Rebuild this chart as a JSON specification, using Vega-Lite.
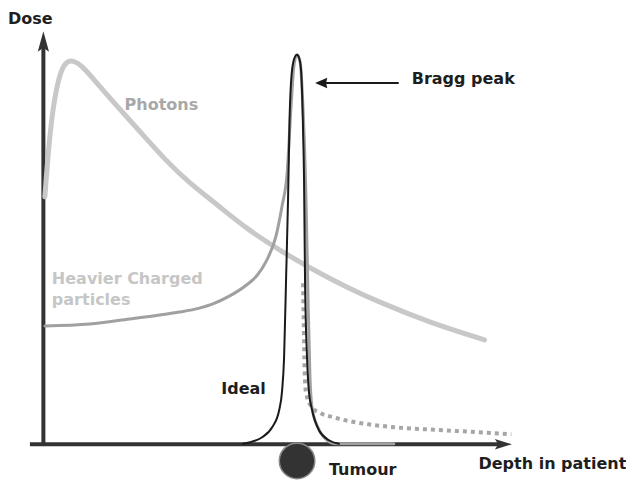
{
  "$schema": "https://vega.github.io/schema/vega-lite/v6.json",
  "width": 626,
  "height": 482,
  "padding": 0,
  "autosize": {"type": "fit", "contains": "padding"},
  "background": "white",
  "config": {"view": {"stroke": null}},
  "datasets": {
    "photons": [
      {"depth": 0.32, "dose": 63.85}, {"depth": 0.96, "dose": 74.36}, {"depth": 2.02, "dose": 87.18},
      {"depth": 3.51, "dose": 95.9}, {"depth": 4.79, "dose": 98.6}, {"depth": 6.06, "dose": 99.2},
      {"depth": 8.4, "dose": 97.6}, {"depth": 12.02, "dose": 92.31}, {"depth": 16.91, "dose": 85.64},
      {"depth": 20.53, "dose": 80.8}, {"depth": 26.28, "dose": 73.0}, {"depth": 31.17, "dose": 67.4},
      {"depth": 36.91, "dose": 62.0}, {"depth": 43.3, "dose": 55.64}, {"depth": 50.53, "dose": 50.0},
      {"depth": 57.55, "dose": 45.0}, {"depth": 64.79, "dose": 40.5}, {"depth": 71.81, "dose": 36.6},
      {"depth": 82.23, "dose": 31.5}, {"depth": 94.15, "dose": 26.92}
    ],
    "bragg": [
      {"depth": 0.32, "dose": 30.51}, {"depth": 9.89, "dose": 31.03}, {"depth": 18.4, "dose": 32.31},
      {"depth": 24.79, "dose": 33.33}, {"depth": 29.04, "dose": 34.1}, {"depth": 33.3, "dose": 35.13},
      {"depth": 36.06, "dose": 36.15}, {"depth": 39.68, "dose": 38.21}, {"depth": 43.3, "dose": 41.03},
      {"depth": 45.64, "dose": 43.59}, {"depth": 47.55, "dose": 47.18}, {"depth": 49.68, "dose": 53.85},
      {"depth": 50.96, "dose": 61.54}, {"depth": 52.02, "dose": 69.74}, {"depth": 52.87, "dose": 87.18},
      {"depth": 53.51, "dose": 97.95}, {"depth": 54.15, "dose": 100.51}, {"depth": 54.79, "dose": 98.72},
      {"depth": 55.43, "dose": 86.41}, {"depth": 56.06, "dose": 63.33}, {"depth": 56.49, "dose": 37.69},
      {"depth": 56.91, "dose": 17.18}, {"depth": 57.34, "dose": 9.49}, {"depth": 58.4, "dose": 4.87},
      {"depth": 59.89, "dose": 1.79}, {"depth": 62.45, "dose": 0.1}, {"depth": 74.79, "dose": 0.1}
    ],
    "tail": [
      {"depth": 55.43, "dose": 41.54}, {"depth": 55.6, "dose": 30.0}, {"depth": 55.75, "dose": 19.74},
      {"depth": 56.06, "dose": 13.33}, {"depth": 57.34, "dose": 9.49}, {"depth": 58.83, "dose": 8.21},
      {"depth": 62.02, "dose": 6.92}, {"depth": 64.57, "dose": 6.15}, {"depth": 69.47, "dose": 5.13},
      {"depth": 75.21, "dose": 4.36}, {"depth": 85.85, "dose": 3.59}, {"depth": 99.89, "dose": 2.56}
    ],
    "ideal": [
      {"depth": 42.6, "dose": 0.1}, {"depth": 46.7, "dose": 1.79}, {"depth": 48.83, "dose": 4.36},
      {"depth": 50.32, "dose": 8.72}, {"depth": 50.96, "dose": 13.85}, {"depth": 51.38, "dose": 22.31},
      {"depth": 51.81, "dose": 42.82}, {"depth": 52.23, "dose": 63.33}, {"depth": 52.55, "dose": 83.85},
      {"depth": 53.09, "dose": 96.67}, {"depth": 53.72, "dose": 100.0}, {"depth": 54.15, "dose": 100.5},
      {"depth": 54.57, "dose": 99.74}, {"depth": 55.0, "dose": 96.67}, {"depth": 55.43, "dose": 81.28},
      {"depth": 55.64, "dose": 68.46}, {"depth": 55.85, "dose": 42.82}, {"depth": 56.28, "dose": 22.31},
      {"depth": 56.7, "dose": 13.33}, {"depth": 57.34, "dose": 8.97}, {"depth": 58.83, "dose": 3.59},
      {"depth": 60.96, "dose": 1.03}, {"depth": 63.09, "dose": 0.1}
    ],
    "axes": [
      {"depth": 0, "dose": -0.4, "depth2": 0, "dose2": 102.5},
      {"depth": -2.87, "dose": 0, "depth2": 98.2, "dose2": 0}
    ],
    "pointer": [
      {"depth": 58.83, "dose": 93.2, "depth2": 75.85, "dose2": 93.2}
    ],
    "labels": [
      {"label": "Dose", "depth": -7.55, "dose": 108.46, "kind": "dark"},
      {"label": "Depth in patient", "depth": 92.87, "dose": -6.41, "kind": "dark"},
      {"label": "Tumour", "depth": 60.96, "dose": -7.95, "kind": "dark"},
      {"label": "Bragg peak", "depth": 78.62, "dose": 92.82, "kind": "dark"},
      {"label": "Ideal", "depth": 37.98, "dose": 13.08, "kind": "dark"},
      {"label": "Photons", "depth": 17.34, "dose": 86.23, "kind": "photons"},
      {"label": "Heavier Charged", "depth": 1.81, "dose": 41.28, "kind": "heavier"},
      {"label": "particles", "depth": 1.81, "dose": 35.9, "kind": "heavier"}
    ]
  },
  "encoding": {
    "x": {"field": "depth", "type": "quantitative", "axis": null, "scale": {"domain": [-9.26, 123.94], "nice": false, "zero": false}},
    "y": {"field": "dose", "type": "quantitative", "axis": null, "scale": {"domain": [-8.97, 114.62], "nice": false, "zero": false}}
  },
  "layer": [
    {
      "data": {"name": "axes"},
      "mark": {"type": "rule", "color": "#333333", "strokeWidth": 4},
      "encoding": {"x2": {"field": "depth2"}, "y2": {"field": "dose2"}}
    },
    {
      "data": {"values": [{"depth": 0, "dose": 103.9}]},
      "mark": {"type": "point", "filled": true, "color": "#333333", "opacity": 1, "size": 420, "shape": "M0,-1 L0.55,1 L0,0.6 L-0.55,1 Z"}
    },
    {
      "data": {"values": [{"depth": 98.19, "dose": 0}]},
      "mark": {"type": "point", "filled": true, "color": "#333333", "opacity": 1, "size": 290, "shape": "M1,0 L-1,-0.62 L-0.6,0 L-1,0.62 Z"}
    },
    {
      "data": {"name": "photons"},
      "mark": {"type": "line", "color": "#c8c8c8", "strokeWidth": 5, "interpolate": "basis", "strokeCap": "round"}
    },
    {
      "data": {"name": "tail"},
      "mark": {"type": "line", "color": "#a6a6a6", "strokeWidth": 4, "strokeDash": [4, 4], "interpolate": "monotone"}
    },
    {
      "data": {"name": "bragg"},
      "mark": {"type": "line", "color": "#a0a0a0", "strokeWidth": 3, "interpolate": "monotone", "strokeCap": "round"}
    },
    {
      "data": {"name": "ideal"},
      "mark": {"type": "line", "color": "#1a1a1a", "strokeWidth": 2, "interpolate": "monotone", "strokeCap": "round"}
    },
    {
      "data": {"name": "pointer"},
      "mark": {"type": "rule", "color": "#1a1a1a", "strokeWidth": 2},
      "encoding": {"x2": {"field": "depth2"}, "y2": {"field": "dose2"}}
    },
    {
      "data": {"values": [{"depth": 59.3, "dose": 93.2}]},
      "mark": {"type": "point", "filled": true, "color": "#1a1a1a", "opacity": 1, "size": 150, "shape": "M-1,0 L1,-0.85 L0.8,0 L1,0.85 Z"}
    },
    {
      "data": {"values": [{"depth": 54.15, "dose": -4.3}]},
      "mark": {"type": "point", "filled": true, "color": "#333333", "opacity": 1, "size": 1260, "shape": "circle", "stroke": "#888888", "strokeWidth": 1.5}
    },
    {
      "data": {"name": "labels"},
      "mark": {"type": "text", "font": "DejaVu Sans", "fontWeight": "bold", "fontSize": 16, "align": "left", "baseline": "alphabetic"},
      "encoding": {
        "text": {"field": "label"},
        "color": {"field": "kind", "type": "nominal", "legend": null, "scale": {"domain": ["dark", "photons", "heavier"], "range": ["#1e1e1e", "#a8a8a8", "#c6c6c6"]}}
      }
    }
  ]
}
